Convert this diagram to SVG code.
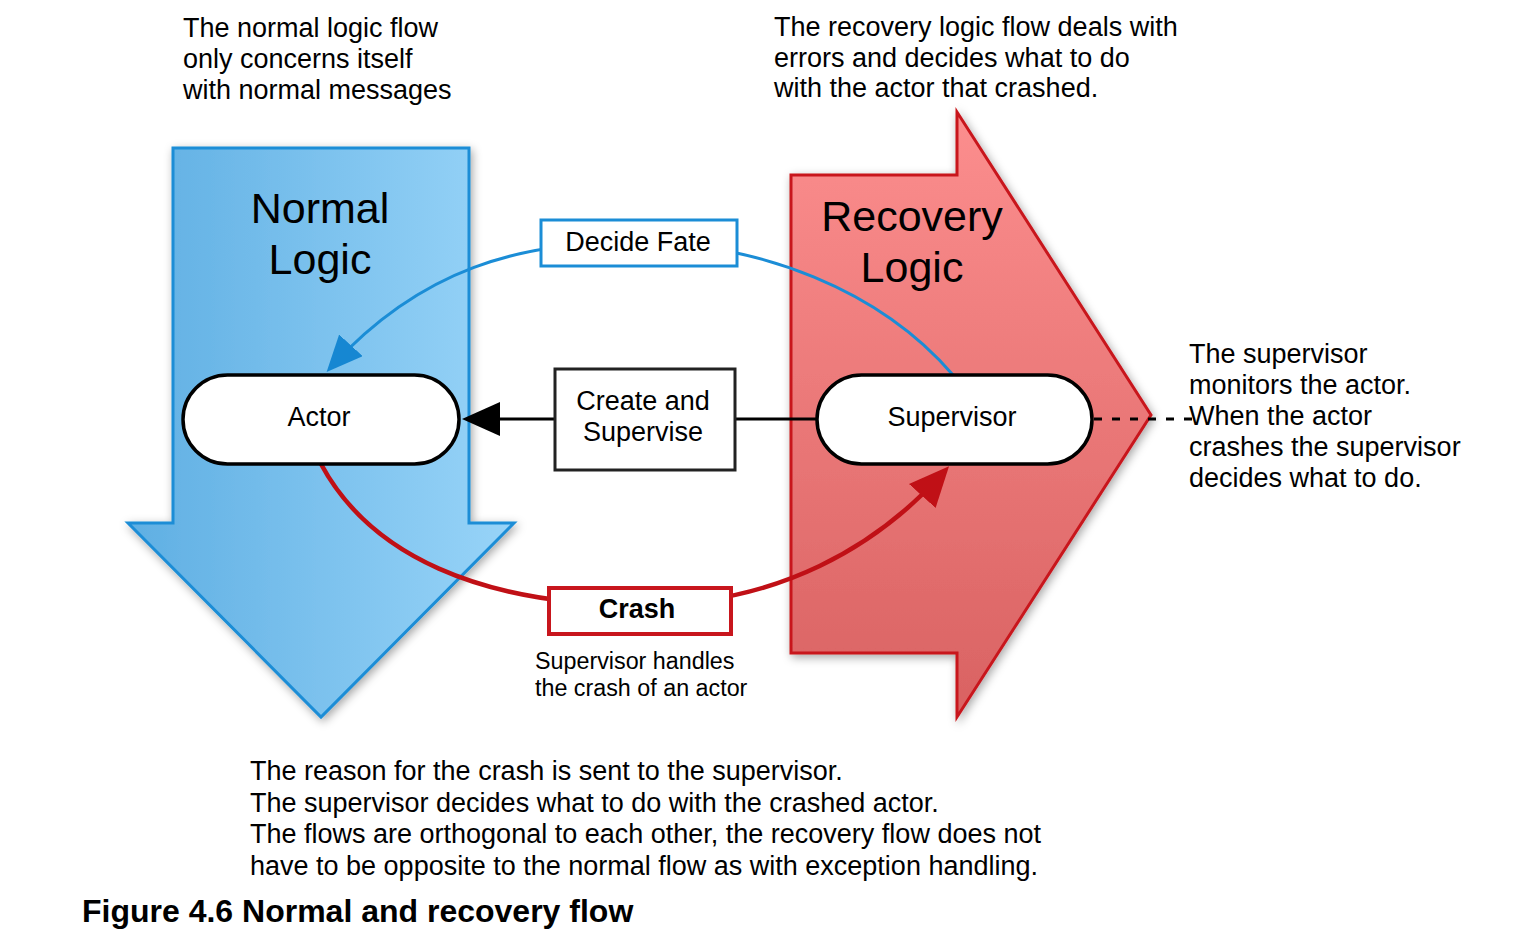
<svg xmlns="http://www.w3.org/2000/svg" width="1530" height="941" viewBox="0 0 1530 941">
<defs>
<linearGradient id="gBlue" x1="0" y1="0" x2="1" y2="0">
<stop offset="0" stop-color="#5fafe3"/>
<stop offset="1" stop-color="#98d4f8"/>
</linearGradient>
<linearGradient id="gRed" x1="0" y1="0" x2="0" y2="1">
<stop offset="0" stop-color="#fc8e8e"/>
<stop offset="1" stop-color="#d96262"/>
</linearGradient>
<filter id="shadow" x="-10%" y="-10%" width="130%" height="130%">
<feDropShadow dx="2" dy="3" stdDeviation="5" flood-color="#000" flood-opacity="0.35"/>
</filter>
<marker id="mBlue" markerUnits="userSpaceOnUse" markerWidth="40" markerHeight="34" refX="28" refY="16" orient="auto">
<path d="M0,0 L36,16 L0,32 z" fill="#1687d2"/>
</marker>
<marker id="mBlack" markerUnits="userSpaceOnUse" markerWidth="40" markerHeight="36" refX="30" refY="17" orient="auto">
<path d="M0,0 L38,17 L0,34 z" fill="#000"/>
</marker>
<marker id="mRed" markerUnits="userSpaceOnUse" markerWidth="42" markerHeight="38" refX="31" refY="18" orient="auto">
<path d="M0,0 L40,18 L0,36 z" fill="#c01016"/>
</marker>
</defs>
<style>
text{font-family:"Liberation Sans",Arial,sans-serif;fill:#000}
.note{font-size:27px}
.big{font-size:43px;text-anchor:middle}
.lbl{font-size:27px;text-anchor:middle}
.pill{fill:#fff;stroke:#000;stroke-width:3.5}
.conn{fill:none}
</style>

<g id="normal-logic">
<polygon points="173,148 469,148 469,523 514,523 321,717 128,523 173,523" fill="url(#gBlue)" stroke="#1b8dd6" stroke-width="3" filter="url(#shadow)"/>
<text class="big" x="320" y="223">Normal</text>
<text class="big" x="320" y="274">Logic</text>
</g>

<g id="recovery-logic">
<polygon points="791,175 957,175 957,112 1151,415 957,717 957,653 791,653" fill="url(#gRed)" stroke="#c8161d" stroke-width="3" filter="url(#shadow)"/>
<text class="big" x="912" y="231">Recovery</text>
<text class="big" x="912" y="282">Logic</text>
</g>

<g id="connectors">
<path class="conn" d="M953,375 C880,290 760,243 640,243 C520,240 420,270 332,366" stroke="#1b8dd6" stroke-width="3" marker-end="url(#mBlue)"/>
<path class="conn" d="M555,419 L470,419" stroke="#000" stroke-width="3" marker-end="url(#mBlack)"/>
<path class="conn" d="M735,419 L817,419" stroke="#000" stroke-width="3"/>
<path class="conn" d="M321,464 C370,555 480,605 640,605 C780,605 878,545 943,473" stroke="#c01016" stroke-width="4.5" marker-end="url(#mRed)"/>
<path class="conn" d="M1094,419 L1198,419" stroke="#000" stroke-width="3" stroke-dasharray="8 10"/>
</g>

<g id="actor">
<rect class="pill" x="183" y="375" width="276" height="89" rx="44.5"/>
<text class="lbl" x="319" y="426">Actor</text>
</g>

<g id="supervisor">
<rect class="pill" x="817" y="375" width="275" height="89" rx="44.5"/>
<text class="lbl" x="952" y="426">Supervisor</text>
</g>

<g id="decide-fate">
<rect x="541" y="220" width="196" height="46" fill="#fff" stroke="#1b8dd6" stroke-width="3"/>
<text class="lbl" x="638" y="251">Decide Fate</text>
</g>

<g id="create-supervise">
<rect x="555" y="369" width="180" height="101" fill="#fff" stroke="#222" stroke-width="3"/>
<text class="lbl" x="643" y="410">Create and</text>
<text class="lbl" x="643" y="441">Supervise</text>
</g>

<g id="crash">
<rect x="549" y="588" width="182" height="46" fill="#fff" stroke="#c8161d" stroke-width="4"/>
<text class="lbl" x="637" y="618" font-weight="bold">Crash</text>
</g>

<g id="notes">
<text class="note" x="183" y="37">The normal logic flow</text>
<text class="note" x="183" y="68">only concerns itself</text>
<text class="note" x="183" y="99">with normal messages</text>
<text class="note" x="774" y="36">The recovery logic flow deals with</text>
<text class="note" x="774" y="67">errors and decides what to do</text>
<text class="note" x="774" y="97">with the actor that crashed.</text>
<text class="note" x="1189" y="363">The supervisor</text>
<text class="note" x="1189" y="394">monitors the actor.</text>
<text class="note" x="1189" y="425">When the actor</text>
<text class="note" x="1189" y="456">crashes the supervisor</text>
<text class="note" x="1189" y="487">decides what to do.</text>
<text x="535" y="669" font-size="23.3">Supervisor handles</text>
<text x="535" y="696" font-size="23.3">the crash of an actor</text>
<text class="note" x="250" y="780">The reason for the crash is sent to the supervisor.</text>
<text class="note" x="250" y="812">The supervisor decides what to do with the crashed actor.</text>
<text class="note" x="250" y="843">The flows are orthogonal to each other, the recovery flow does not</text>
<text class="note" x="250" y="875">have to be opposite to the normal flow as with exception handling.</text>
<text x="82" y="922" font-size="32" font-weight="bold">Figure 4.6 Normal and recovery flow</text>
</g>
</svg>
